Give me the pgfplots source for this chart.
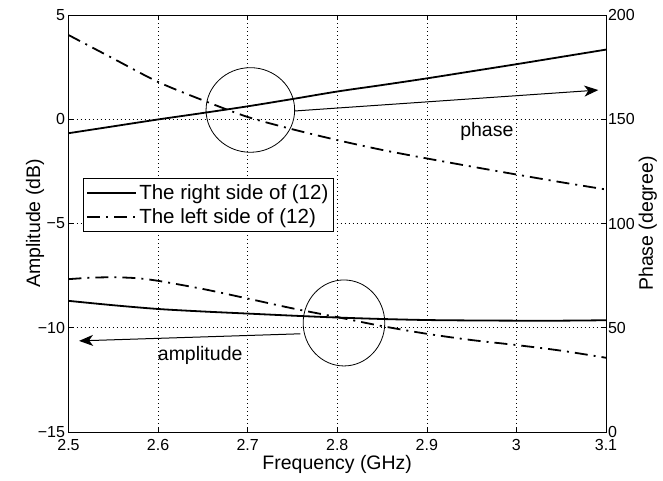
\documentclass[border=0pt]{standalone}
\usepackage{fontspec}
\setmainfont{Liberation Sans}
\usepackage{pgfplots}
\pgfplotsset{compat=1.18}
\usetikzlibrary{arrows.meta}
\newcommand\tickfont{\fontsize{16bp}{19bp}\selectfont}
\newcommand\labfont{\fontsize{19.5bp}{23bp}\selectfont}
\newcommand\legfont{\fontsize{20.5bp}{24bp}\selectfont}
\tikzset{dashdot/.style={dash pattern=on 13bp off 6bp on 2bp off 6bp}}
\begin{document}
\begin{tikzpicture}
\path[use as bounding box] (-68.5bp,-49bp) rectangle (594.5bp,432bp);
\begin{axis}[
  at={(0,0)}, anchor=south west,
  scale only axis, width=537.5bp, height=417bp,
  xmin=2.5, xmax=3.1, ymin=-15, ymax=5,
  xtick={2.5,2.6,2.7,2.8,2.9,3.0,3.1},
  xticklabels={2.5,2.6,2.7,2.8,2.9,3,3.1},
  ytick={-15,-10,-5,0,5},
  yticklabels={−15,−10,−5,0,5},
  xtick pos=both, ytick pos=left,
  tick align=inside, major tick length=5bp,
  tick style={black, line width=0.6bp},
  axis line style={line width=0.9bp},
  grid=major,
  major grid style={black, line width=0.5bp, dash pattern=on 1bp off 3bp},
  ticklabel style={font=\tickfont},
  xticklabel style={yshift=-4bp},
  label style={font=\labfont},
  xlabel={Frequency (GHz)}, ylabel={Amplitude (dB)},
  xlabel style={at={(axis description cs:0.5,-0.0767)}, anchor=center},
  ylabel style={at={(axis description cs:-0.0623,0.5)}, anchor=center},
  legend style={at={(axis description cs:0.027,0.609)}, anchor=north west,
    draw=black, line width=0.9bp, font=\legfont, fill=white,
    inner xsep=3bp, inner ysep=4bp, row sep=4bp},
  legend cell align=left,
  legend image code/.code={\draw[#1] (0bp,0bp) -- (49bp,0bp);},
]
\addplot[black, line width=1.8bp, smooth] coordinates {
 (2.5,-8.71) (2.55,-8.92) (2.6,-9.10) (2.65,-9.22) (2.7,-9.32) (2.75,-9.42)
 (2.8,-9.51) (2.85,-9.58) (2.9,-9.63) (2.95,-9.65) (3.0,-9.66) (3.05,-9.66) (3.1,-9.64)};
\addlegendentry{The right side of (12)}
\addplot[black, line width=1.8bp, dashdot, smooth] coordinates {
 (2.5,-7.67) (2.525,-7.60) (2.55,-7.58) (2.575,-7.62) (2.6,-7.75) (2.65,-8.14)
 (2.7,-8.60) (2.75,-9.07) (2.8,-9.49) (2.85,-9.92) (2.9,-10.29) (2.95,-10.59)
 (3.0,-10.83) (3.05,-11.10) (3.1,-11.44)};
\addlegendentry{The left side of (12)}
\draw[line width=0.8bp] (axis cs:2.703,0.445) ellipse [x radius=44.3bp, y radius=42.3bp];
\draw[line width=0.8bp] (axis cs:2.8075,-9.77) ellipse [x radius=40.8bp, y radius=43bp];
\draw[line width=1bp, -{Stealth[length=14bp,width=11bp,inset=4bp]}]
  (axis cs:2.7524,0.396) -- (axis cs:3.0914,1.40);
\draw[line width=1bp, -{Stealth[length=14bp,width=11bp,inset=4bp]}]
  (axis cs:2.7588,-10.29) -- (axis cs:2.5118,-10.63);
\node[font=\labfont] at (axis cs:2.967,-0.60) {phase};
\node[font=\labfont] at (axis cs:2.647,-11.34) {amplitude};
\end{axis}
\begin{axis}[
  at={(0,0)}, anchor=south west,
  scale only axis, width=537.5bp, height=417bp,
  xmin=2.5, xmax=3.1, ymin=0, ymax=200,
  axis x line=none, axis y line*=right,
  ytick={0,50,100,150,200},
  yticklabels={0,50,100,150,200},
  tick align=inside, major tick length=5bp,
  tick style={black, line width=0.6bp},
  axis line style={line width=0.9bp},
  ticklabel style={font=\tickfont},
  yticklabel style={xshift=-1.5bp},
  ylabel={Phase (degree)},
  ylabel style={at={(axis description cs:1.078,0.5)}, anchor=center, font=\labfont},
]
\addplot[black, line width=1.8bp, smooth] coordinates {
 (2.5,143.3) (2.55,146.6) (2.6,149.9) (2.65,153.0) (2.7,156.2) (2.75,159.7)
 (2.8,163.3) (2.85,166.4) (2.9,169.6) (2.95,173.0) (3.0,176.4) (3.05,179.9) (3.1,183.4)};
\addplot[black, line width=1.8bp, dashdot, smooth] coordinates {
 (2.5,190.4) (2.55,179.1) (2.6,167.9) (2.65,159.1) (2.7,151.1) (2.75,145.2)
 (2.8,140.0) (2.85,135.3) (2.9,131.2) (2.95,127.3) (3.0,123.5) (3.05,119.8) (3.1,116.3)};
\end{axis}
\end{tikzpicture}
\end{document}
